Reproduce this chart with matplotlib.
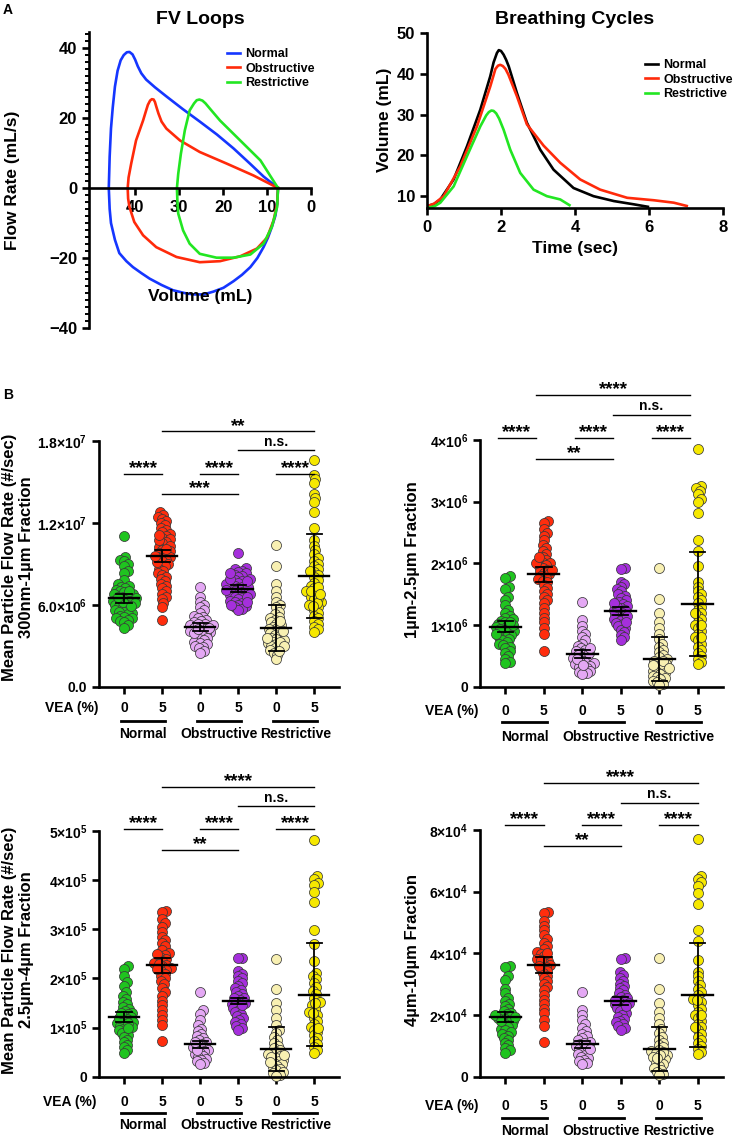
"""
Lung model figure: FV loops, breathing cycles and particle flow rates
by VEA concentration for the three lung conditions.
"""

import numpy as np
import matplotlib
matplotlib.use("Agg")
import matplotlib.pyplot as plt

W, H = 736, 1138

plt.rcParams["font.family"] = ["Liberation Sans", "DejaVu Sans"]
plt.rcParams["font.weight"] = "bold"
plt.rcParams["axes.labelweight"] = "bold"
plt.rcParams["mathtext.fontset"] = "custom"
plt.rcParams["mathtext.rm"] = "Liberation Sans:bold"
plt.rcParams["mathtext.bf"] = "Liberation Sans:bold"

# ---- Panel A: flow-volume loops (volume mL, flow mL/s) ----
fv_normal_vol = [7.5, 10.8, 13.9, 17.6, 21.4, 25.3, 29.2, 32.9, 35.5, 37.5,
                 38.6, 39.4, 40.0, 40.6, 41.3, 41.9, 42.6, 43.3, 44.0, 44.6,
                 45.1, 45.5, 45.8, 46.0, 45.8, 45.5, 44.6, 43.6, 42.0, 40.5,
                 38.6, 36.7, 34.0, 31.4, 28.8, 26.8, 24.4, 22.2, 19.9, 17.6,
                 15.7, 13.8, 12.2, 10.8, 9.8, 8.9, 8.1, 7.7, 7.5]
fv_normal_flow = [0.0, 3.3, 7.0, 11.3, 15.3, 19.0, 22.6, 26.2, 28.8, 31.0,
                  32.8, 34.8, 36.7, 38.2, 38.9, 38.8, 38.0, 36.5, 33.5, 29.0,
                  23.0, 17.0, 9.0, 0.0, -6.0, -10.0, -14.8, -18.6, -20.9, -22.6,
                  -24.3, -25.9, -27.7, -29.2, -30.0, -30.4, -30.4, -29.6, -28.5,
                  -26.6, -24.8, -22.6, -20.0, -16.9, -14.2, -11.1, -7.9, -4.5,
                  0.0]
fv_obstr_vol = [7.5, 13.1, 19.2, 25.3, 29.8, 32.9, 34.0, 34.7, 35.2, 35.5,
                35.8, 36.2, 36.6, 37.1, 37.5, 38.2, 39.8, 40.9, 41.5, 41.7,
                41.6, 41.3, 40.2, 38.2, 35.2, 30.6, 25.3, 20.7, 16.1, 12.3,
                10.0, 8.5, 7.7, 7.5]
fv_obstr_flow = [0.0, 3.6, 7.0, 10.3, 13.6, 17.0, 19.0, 21.3, 23.3, 24.6,
                 25.3, 25.4, 25.0, 23.8, 22.2, 19.3, 13.6, 7.0, 3.0, 0.0,
                 -3.0, -5.4, -9.7, -13.5, -16.9, -19.7, -21.2, -20.9, -19.5,
                 -17.3, -14.2, -9.2, -4.5, 0.0]
fv_restr_vol = [7.5, 11.5, 16.1, 20.7, 23.0, 24.0, 24.7, 25.4, 26.0, 26.6,
                27.6, 28.7, 29.6, 30.2, 30.5, 30.4, 30.2, 29.1, 27.6, 25.3,
                21.5, 17.6, 13.8, 10.8, 8.9, 7.7, 7.5]
fv_restr_flow = [0.0, 7.9, 13.6, 19.3, 22.7, 24.2, 25.0, 25.3, 25.1, 24.2,
                 22.2, 16.5, 9.8, 4.1, 0.0, -3.5, -7.3, -12.1, -15.9, -18.8,
                 -19.9, -19.9, -19.0, -15.9, -11.1, -5.4, 0.0]

# ---- Panel A: breathing cycles (time s, volume mL) ----
bc_normal_t = [0.0, 0.18, 0.36, 0.72, 1.08, 1.44, 1.71, 1.80, 1.89, 1.94,
               2.00, 2.07, 2.14, 2.21, 2.43, 2.70, 3.06, 3.42, 3.96, 4.50,
               5.05, 5.59, 5.97]
bc_normal_v = [7.6, 8.0, 9.2, 14.1, 22.2, 31.2, 39.4, 42.8, 45.1, 45.8,
               45.6, 44.7, 43.4, 41.8, 35.3, 28.0, 21.4, 16.5, 12.0, 10.0,
               8.8, 8.0, 7.4]
bc_obstr_t = [0.0, 0.20, 0.45, 0.90, 1.35, 1.71, 1.85, 1.92, 1.98, 2.05,
              2.12, 2.20, 2.43, 2.70, 3.15, 3.60, 4.14, 4.68, 5.41, 6.13,
              6.67, 7.02]
bc_obstr_v = [7.5, 8.2, 10.0, 17.3, 27.1, 36.9, 41.2, 42.0, 42.2, 41.9,
              41.2, 39.8, 34.5, 27.6, 22.4, 18.2, 14.1, 11.6, 9.6, 9.0,
              8.4, 7.6]
bc_restr_t = [0.0, 0.20, 0.36, 0.72, 1.08, 1.44, 1.60, 1.67, 1.74, 1.80,
              1.87, 1.95, 2.07, 2.25, 2.52, 2.88, 3.24, 3.60, 3.85]
bc_restr_v = [7.1, 7.5, 8.4, 12.4, 19.8, 27.1, 29.8, 30.6, 31.0, 30.9,
              30.3, 29.0, 26.3, 21.4, 15.7, 11.6, 10.0, 9.2, 7.8]

CONDITIONS = ["Normal", "Obstructive", "Restrictive"]
VEA_LEVELS = ["0", "5"]

# ---- Panel B: per-animal mean particle flow rates ----
# 300nm-1um, in units of 1e6 #/sec
fine_values = [
    [11.0, 9.5, 9.3, 9.2, 9.0, 8.8, 8.5, 8.3, 7.8, 7.5, 7.4, 7.3, 7.2, 7.1, 7.0,
     6.9, 6.8, 6.8, 6.7, 6.6, 6.5, 6.5, 6.4, 6.3, 6.3, 6.2, 6.1, 6.0, 6.0, 5.9,
     5.8, 5.7, 5.6, 5.5, 5.5, 5.4, 5.3, 5.2, 5.1, 5.0, 5.0, 4.9, 4.8, 4.7, 4.5,
     4.3, 6.2, 6.6, 5.9, 7.0],
    [12.8, 12.6, 12.4, 12.3, 12.1, 12.0, 11.8, 11.6, 11.5, 11.3, 11.2, 11.0,
     10.9, 10.8, 10.6, 10.5, 10.3, 10.2, 10.0, 9.9, 9.8, 9.7, 9.6, 9.5, 9.4,
     9.3, 9.2, 9.0, 8.9, 8.8, 8.6, 8.5, 8.3, 8.2, 8.0, 7.9, 7.7, 7.5, 7.4, 7.2,
     7.0, 6.8, 6.6, 6.4, 6.1, 5.8, 4.9, 10.1, 10.7, 11.1, 9.1, 9.6],
    [7.3, 6.6, 6.2, 6.0, 5.8, 5.6, 5.4, 5.2, 5.1, 5.0, 4.9, 4.8, 4.7, 4.6, 4.5,
     4.5, 4.4, 4.3, 4.2, 4.1, 4.0, 4.0, 3.9, 3.8, 3.7, 3.6, 3.5, 3.4, 3.3, 3.2,
     3.1, 3.0, 2.9, 2.8, 2.6, 2.5, 4.3, 4.6, 3.9, 4.2],
    [9.8, 8.7, 8.6, 8.5, 8.4, 8.3, 8.2, 8.1, 8.0, 7.9, 7.8, 7.7, 7.6, 7.5, 7.4,
     7.3, 7.2, 7.1, 7.0, 7.0, 6.9, 6.8, 6.7, 6.6, 6.5, 6.4, 6.3, 6.2, 6.1, 6.0,
     5.9, 5.8, 5.7, 5.6, 7.3, 7.5, 6.8, 7.1, 6.6, 7.9, 8.3, 6.2, 6.0, 7.7],
    [10.4, 8.8, 7.5, 7.0, 6.6, 6.2, 6.0, 5.8, 5.5, 5.3, 5.1, 5.0, 4.9, 4.7, 4.6,
     4.5, 4.4, 4.3, 4.2, 4.1, 4.0, 3.9, 3.8, 3.7, 3.6, 3.5, 3.4, 3.3, 3.2, 3.1,
     3.0, 2.9, 2.8, 2.7, 2.5, 2.3, 2.0, 3.6, 4.1, 3.3, 4.8, 3.0, 2.6],
    [16.6, 15.5, 15.2, 14.9, 14.1, 13.8, 13.5, 12.8, 11.6, 10.7, 10.3, 10.0,
     9.7, 9.4, 9.2, 9.0, 8.8, 8.6, 8.4, 8.2, 8.0, 7.8, 7.6, 7.4, 7.2, 7.0, 6.8,
     6.6, 6.4, 6.2, 6.0, 5.8, 5.6, 5.4, 5.2, 5.0, 4.8, 4.6, 4.4, 4.2, 4.0, 6.5,
     7.0, 6.1, 5.9, 8.5, 7.3, 6.8],
]
fine_means = [6.46, 9.56, 4.39, 7.17, 4.32, 8.10]
fine_errors = [0.35, 0.45, 0.30, 0.25, 1.68, 3.10]

# 1um-2.5um, in units of 1e6 #/sec
mid_values = [
    [1.80, 1.77, 1.62, 1.58, 1.45, 1.40, 1.32, 1.25, 1.20, 1.15, 1.12, 1.10,
     1.07, 1.05, 1.02, 1.00, 0.98, 0.96, 0.94, 0.92, 0.90, 0.88, 0.86, 0.84,
     0.82, 0.80, 0.78, 0.75, 0.72, 0.70, 0.68, 0.65, 0.62, 0.58, 0.55, 0.50,
     0.45, 0.40, 0.38, 1.00, 0.93, 1.05, 0.85],
    [2.68, 2.65, 2.55, 2.50, 2.45, 2.38, 2.30, 2.25, 2.20, 2.15, 2.10, 2.05,
     2.02, 2.00, 1.98, 1.95, 1.92, 1.90, 1.87, 1.85, 1.82, 1.80, 1.77, 1.75,
     1.72, 1.70, 1.65, 1.60, 1.55, 1.50, 1.45, 1.40, 1.35, 1.28, 1.20, 1.12,
     1.05, 0.95, 0.85, 0.58, 2.00, 1.90, 2.10],
    [1.38, 1.08, 0.98, 0.90, 0.85, 0.80, 0.75, 0.70, 0.66, 0.62, 0.60, 0.58,
     0.55, 0.52, 0.50, 0.48, 0.46, 0.44, 0.42, 0.40, 0.38, 0.36, 0.34, 0.32,
     0.30, 0.28, 0.26, 0.24, 0.22, 0.20, 0.55, 0.45, 0.35, 0.62],
    [1.92, 1.91, 1.70, 1.66, 1.62, 1.58, 1.55, 1.50, 1.47, 1.44, 1.40, 1.37,
     1.34, 1.31, 1.28, 1.25, 1.23, 1.20, 1.18, 1.15, 1.12, 1.10, 1.07, 1.04,
     1.01, 0.98, 0.95, 0.92, 0.88, 0.84, 0.80, 0.76, 1.25, 1.30, 1.15, 1.35,
     1.05],
    [1.92, 1.43, 1.20, 1.05, 0.95, 0.85, 0.78, 0.70, 0.65, 0.60, 0.56, 0.52,
     0.48, 0.45, 0.42, 0.40, 0.37, 0.35, 0.33, 0.30, 0.28, 0.26, 0.24, 0.22,
     0.20, 0.18, 0.16, 0.14, 0.12, 0.10, 0.08, 0.05, 0.02, 0.35, 0.42, 0.30],
    [3.85, 3.25, 3.22, 3.18, 3.12, 3.05, 3.00, 2.82, 2.38, 2.20, 1.95, 1.70,
     1.62, 1.55, 1.50, 1.45, 1.40, 1.35, 1.30, 1.25, 1.20, 1.15, 1.10, 1.05,
     1.00, 0.95, 0.90, 0.85, 0.80, 0.75, 0.70, 0.65, 0.60, 0.55, 0.50, 0.45,
     0.40, 0.36, 1.20, 1.00, 0.80],
]
mid_means = [0.97, 1.82, 0.53, 1.23, 0.45, 1.34]
mid_errors = [0.09, 0.12, 0.06, 0.06, 0.36, 0.85]

# 2.5um-4um, in units of 1e5 #/sec
coarse_values = [
    [2.25, 2.20, 2.05, 1.92, 1.85, 1.72, 1.65, 1.58, 1.52, 1.47, 1.42, 1.38,
     1.34, 1.30, 1.27, 1.24, 1.21, 1.18, 1.15, 1.12, 1.10, 1.07, 1.04, 1.01,
     0.98, 0.95, 0.92, 0.88, 0.84, 0.80, 0.75, 0.70, 0.65, 0.60, 0.55, 0.48,
     1.20, 1.30, 1.10, 1.00],
    [3.38, 3.35, 3.20, 3.12, 3.05, 2.95, 2.85, 2.78, 2.72, 2.65, 2.58, 2.52,
     2.48, 2.44, 2.40, 2.36, 2.32, 2.28, 2.25, 2.22, 2.18, 2.15, 2.10, 2.05,
     2.00, 1.95, 1.88, 1.80, 1.72, 1.65, 1.55, 1.45, 1.35, 1.25, 1.15, 1.05,
     0.72, 2.50, 2.30, 2.20],
    [1.72, 1.35, 1.28, 1.15, 1.05, 0.98, 0.92, 0.86, 0.82, 0.78, 0.74, 0.70,
     0.67, 0.64, 0.61, 0.58, 0.55, 0.52, 0.49, 0.46, 0.43, 0.40, 0.37, 0.34,
     0.31, 0.28, 0.25, 0.60, 0.55, 0.70],
    [2.42, 2.41, 2.15, 2.10, 2.05, 2.00, 1.95, 1.90, 1.85, 1.80, 1.76, 1.72,
     1.68, 1.64, 1.60, 1.56, 1.52, 1.48, 1.44, 1.40, 1.36, 1.32, 1.28, 1.24,
     1.20, 1.16, 1.12, 1.08, 1.04, 1.00, 0.96, 1.50, 1.60, 1.45],
    [2.40, 1.78, 1.50, 1.35, 1.20, 1.05, 0.95, 0.88, 0.80, 0.74, 0.68, 0.63,
     0.58, 0.54, 0.50, 0.46, 0.42, 0.38, 0.35, 0.32, 0.28, 0.25, 0.22, 0.19,
     0.16, 0.13, 0.10, 0.07, 0.04, 0.02, 0.45, 0.40, 0.30],
    [4.82, 4.08, 4.02, 3.95, 3.90, 3.75, 3.55, 2.98, 2.70, 2.35, 2.12, 2.05,
     1.98, 1.90, 1.82, 1.75, 1.68, 1.60, 1.52, 1.45, 1.38, 1.32, 1.26, 1.20,
     1.14, 1.08, 1.02, 0.96, 0.90, 0.84, 0.78, 0.72, 0.66, 0.60, 0.54, 0.48,
     1.30, 1.00, 1.50],
]
coarse_means = [1.21, 2.27, 0.66, 1.54, 0.56, 1.67]
coarse_errors = [0.10, 0.15, 0.07, 0.07, 0.45, 1.05]

# 4um-10um, in units of 1e4 #/sec
large_values = [
    [3.60, 3.55, 3.25, 3.15, 2.85, 2.70, 2.55, 2.45, 2.35, 2.28, 2.20, 2.14,
     2.08, 2.02, 1.97, 1.92, 1.87, 1.82, 1.77, 1.72, 1.67, 1.62, 1.56, 1.50,
     1.44, 1.38, 1.32, 1.25, 1.18, 1.10, 1.02, 0.92, 0.85, 0.78, 1.90, 2.00,
     1.80, 1.95],
    [5.35, 5.30, 5.05, 4.90, 4.75, 4.60, 4.45, 4.35, 4.25, 4.15, 4.05, 3.98,
     3.90, 3.82, 3.75, 3.68, 3.62, 3.55, 3.48, 3.42, 3.35, 3.28, 3.20, 3.10,
     3.00, 2.90, 2.80, 2.65, 2.50, 2.35, 2.20, 2.05, 1.85, 1.65, 1.12, 3.80,
     3.60, 4.00],
    [2.75, 2.15, 2.00, 1.85, 1.70, 1.58, 1.48, 1.40, 1.32, 1.25, 1.18, 1.12,
     1.06, 1.00, 0.95, 0.90, 0.85, 0.80, 0.75, 0.70, 0.65, 0.60, 0.55, 0.50,
     0.45, 0.40, 1.00, 1.10, 0.90],
    [3.85, 3.82, 3.40, 3.30, 3.20, 3.10, 3.02, 2.95, 2.88, 2.80, 2.73, 2.66,
     2.60, 2.54, 2.48, 2.42, 2.36, 2.30, 2.24, 2.18, 2.12, 2.06, 2.00, 1.94,
     1.88, 1.82, 1.76, 1.70, 1.64, 1.58, 1.52, 2.40, 2.50, 2.30],
    [3.85, 2.85, 2.40, 2.10, 1.90, 1.70, 1.55, 1.42, 1.30, 1.20, 1.10, 1.02,
     0.95, 0.88, 0.82, 0.76, 0.70, 0.64, 0.58, 0.52, 0.46, 0.40, 0.34, 0.28,
     0.22, 0.16, 0.10, 0.04, 0.80, 0.70, 0.60],
    [7.70, 6.50, 6.40, 6.30, 6.20, 5.95, 5.60, 4.75, 4.40, 3.80, 3.40, 3.25,
     3.10, 2.98, 2.86, 2.75, 2.64, 2.53, 2.42, 2.31, 2.20, 2.10, 2.00, 1.90,
     1.80, 1.70, 1.60, 1.50, 1.40, 1.30, 1.20, 1.10, 1.00, 0.90, 0.80, 0.72,
     2.50, 2.00, 1.60],
]
large_means = [1.93, 3.62, 1.05, 2.46, 0.90, 2.66]
large_errors = [0.16, 0.25, 0.12, 0.12, 0.71, 1.69]

# significance brackets: (from group, to group, height in panel units, text)
fine_sig = [(0, 1, 15.6, "****"), (2, 3, 15.6, "****"), (4, 5, 15.6, "****"),
            (1, 3, 14.1, "***"), (3, 5, 17.3, "n.s."), (1, 5, 18.7, "**")]
mid_sig = [(0, 1, 4.04, "****"), (2, 3, 4.04, "****"), (4, 5, 4.04, "****"),
           (1, 3, 3.70, "**"), (3, 5, 4.41, "n.s."), (1, 5, 4.73, "****")]
coarse_sig = [(0, 1, 5.04, "****"), (2, 3, 5.04, "****"), (4, 5, 5.04, "****"),
              (1, 3, 4.62, "**"), (3, 5, 5.50, "n.s."), (1, 5, 5.90, "****")]
large_sig = [(0, 1, 8.16, "****"), (2, 3, 8.16, "****"), (4, 5, 8.16, "****"),
             (1, 3, 7.48, "**"), (3, 5, 8.89, "n.s."), (1, 5, 9.54, "****")]

GROUP_COLORS = ["#1fc41f", "#ff2d0d", "#e4a8f4", "#a52fdc", "#f8f0b2", "#f6e800"]
LINE_COLORS = {"blue": "#1536ff", "red": "#ff2a0a", "green": "#22e622"}


def add_axes_px(fig, left, top, right, bottom):
    """Add an axes using pixel edges measured from the top-left corner."""
    return fig.add_axes([left / W, 1 - bottom / H, (right - left) / W,
                         (bottom - top) / H])


def fig_text(fig, x, y, s, **kw):
    fig.text(x / W, 1 - y / H, s, **kw)


def style_spines(ax, labelsize=12):
    for side in ("top", "right"):
        ax.spines[side].set_visible(False)
    for side in ("left", "bottom"):
        ax.spines[side].set_linewidth(1.9)
    ax.tick_params(which="major", length=5, width=1.9, labelsize=labelsize)
    ax.tick_params(which="minor", length=3, width=1.4)


def plot_fv_loops(fig):
    ax = add_axes_px(fig, 89, 32, 311, 328)
    ax.plot(fv_normal_vol, fv_normal_flow, color=LINE_COLORS["blue"], lw=1.9,
            label="Normal", solid_joinstyle="round")
    ax.plot(fv_obstr_vol, fv_obstr_flow, color=LINE_COLORS["red"], lw=1.9,
            label="Obstructive", solid_joinstyle="round")
    ax.plot(fv_restr_vol, fv_restr_flow, color=LINE_COLORS["green"], lw=1.9,
            label="Restrictive", solid_joinstyle="round")
    ax.set_xlim(50.5, 0)
    ax.set_ylim(-40, 44.6)
    style_spines(ax)
    ax.spines["bottom"].set_position(("data", 0))
    ax.set_xticks([40, 30, 20, 10, 0])
    ax.set_yticks([-40, -20, 0, 20, 40])
    ax.set_yticks(np.arange(-40, 45, 2), minor=True)
    ax.text(0.5, 0.105, "Volume (mL)", transform=ax.transAxes, ha="center",
            va="center", fontsize=12.5, fontweight="bold")
    ax.legend(loc="upper left", bbox_to_anchor=(0.62, 0.945), frameon=False,
              handlelength=1.1, handletextpad=0.4, labelspacing=0.2,
              borderaxespad=0, borderpad=0, prop={"size": 9, "weight": "bold"})
    fig_text(fig, 200, 20, "FV Loops", ha="center", va="center", fontsize=14,
             fontweight="bold")
    fig_text(fig, 13, 180, "Flow Rate (mL/s)", ha="center", va="center",
             rotation=90, fontsize=12.5, fontweight="bold")


def plot_breathing(fig):
    ax = add_axes_px(fig, 427, 33, 723, 208)
    ax.plot(bc_normal_t, bc_normal_v, color="black", lw=1.9, label="Normal",
            solid_joinstyle="round")
    ax.plot(bc_obstr_t, bc_obstr_v, color=LINE_COLORS["red"], lw=1.9,
            label="Obstructive", solid_joinstyle="round")
    ax.plot(bc_restr_t, bc_restr_v, color=LINE_COLORS["green"], lw=1.9,
            label="Restrictive", solid_joinstyle="round")
    ax.set_xlim(0, 8)
    ax.set_ylim(7.1, 50)
    style_spines(ax)
    ax.set_xticks([0, 2, 4, 6, 8])
    ax.set_yticks([10, 20, 30, 40, 50])
    ax.legend(loc="upper left", bbox_to_anchor=(0.735, 0.85), frameon=False,
              handlelength=1.1, handletextpad=0.4, labelspacing=0.2,
              borderaxespad=0, borderpad=0, prop={"size": 9, "weight": "bold"})
    fig_text(fig, 575, 20, "Breathing Cycles", ha="center", va="center",
             fontsize=14, fontweight="bold")
    fig_text(fig, 575, 248, "Time (sec)", ha="center", va="center",
             fontsize=12.5, fontweight="bold")
    fig_text(fig, 385, 120, "Volume (mL)", ha="center", va="center",
             rotation=90, fontsize=12.5, fontweight="bold")


def swarm_offsets(ax, xc, vals, diam_px, spacing=0.42, step=0.6):
    """Beeswarm layout: horizontal offsets (data units) so dots overlap only
    partly, as GraphPad does."""
    pts = ax.transData.transform(np.column_stack([np.full(len(vals), xc), vals]))
    ypx = pts[:, 1]
    x0 = pts[0, 0]
    x1 = ax.transData.transform([[xc + 1, vals[0]]])[0, 0]
    px_per_unit = x1 - x0
    dmin = diam_px * spacing
    cands = [0.0]
    for k in range(1, 300):
        cands += [k * step, -k * step]
    placed = []
    offs = np.zeros(len(vals))
    for i in np.argsort(ypx):
        y = ypx[i]
        near = [(px, py) for px, py in placed if abs(py - y) < dmin]
        for c in cands:
            if all((c - px) ** 2 + (y - py) ** 2 >= dmin ** 2 for px, py in near):
                break
        placed.append((c, y))
        offs[i] = c / px_per_unit
    return offs


def plot_particle_panel(fig, rect, values, means, errors, scale, ymax, yticks,
                        yticklabels, ylabel, ylabel_xy, sig, sig_shift,
                        label_rows, vea_x):
    ax = add_axes_px(fig, *rect)
    ax.set_xlim(-0.66, 5.65)
    ax.set_ylim(0, ymax * scale)
    style_spines(ax, labelsize=10)
    diam = 10.0
    for i, vals in enumerate(values):
        vals = np.asarray(vals) * scale
        offs = swarm_offsets(ax, i, vals, diam)
        ax.scatter(i + offs, vals, s=(diam / 1.389) ** 2, color=GROUP_COLORS[i],
                   edgecolor="#3a3a3a", linewidth=0.55, zorder=2, clip_on=False)
    for i, (m, e) in enumerate(zip(means, errors)):
        m, e = m * scale, e * scale
        ax.plot([i - 0.4, i + 0.4], [m, m], color="black", lw=1.7, zorder=4)
        ax.plot([i, i], [m - e, m + e], color="black", lw=1.3, zorder=4)
        for yy in (m - e, m + e):
            ax.plot([i - 0.2, i + 0.2], [yy, yy], color="black", lw=1.3,
                    zorder=4)
    for a, b, h, txt in sig:
        h = h * scale
        ax.plot([a + sig_shift, b + sig_shift], [h, h], color="black", lw=1.0,
                clip_on=False)
        stars = "*" in txt
        ax.annotate(txt, ((a + b) / 2 + sig_shift, h),
                    xytext=(0, -2.5 if stars else 1), textcoords="offset points",
                    ha="center", va="bottom", fontsize=13.5 if stars else 10,
                    fontweight="bold", annotation_clip=False)
    ax.set_xticks(range(6))
    ax.tick_params(axis="x", labelbottom=False)
    ax.set_yticks(np.asarray(yticks) * scale)
    ax.set_yticklabels(yticklabels)
    trans = ax.get_xaxis_transform()
    y_lab, y_line, y_name = label_rows
    for i in range(6):
        ax.text(i, y_lab, VEA_LEVELS[i % 2], transform=trans, ha="center",
                va="center", fontsize=10, fontweight="bold")
    for k, name in enumerate(CONDITIONS):
        ax.plot([2 * k - 0.08, 2 * k + 1.08], [y_line, y_line], color="black",
                lw=2.0, transform=trans, clip_on=False)
        ax.text(2 * k + 0.5, y_name, name, transform=trans, ha="center",
                va="center", fontsize=10, fontweight="bold")
    fig_text(fig, vea_x, rect[3] - y_lab * (rect[3] - rect[1]), "VEA (%)",
             ha="center", va="center", fontsize=10, fontweight="bold")
    fig_text(fig, ylabel_xy[0], ylabel_xy[1], ylabel, ha="center", va="center",
             rotation=90, fontsize=12, fontweight="bold", linespacing=1.1)


def main():
    fig = plt.figure(figsize=(W / 100, H / 100), dpi=100)

    plot_fv_loops(fig)
    plot_breathing(fig)
    fig_text(fig, 8, 10, "A", ha="center", va="center", fontsize=10,
             fontweight="bold")
    fig_text(fig, 8, 395, "B", ha="center", va="center", fontsize=10,
             fontweight="bold")

    plot_particle_panel(
        fig, (99, 440.7, 339, 686.7), fine_values, fine_means, fine_errors,
        1e6, 18, [0, 6, 12, 18],
        ["0.0", r"$6.0{\times}10^{6}$", r"$1.2{\times}10^{7}$",
         r"$1.8{\times}10^{7}$"],
        "Mean Particle Flow Rate (#/sec)\n300nm-1µm Fraction", (18, 557),
        fine_sig, 0.0, (-0.087, -0.14, -0.193), 72)
    plot_particle_panel(
        fig, (480, 440, 722.7, 686.7), mid_values, mid_means, mid_errors,
        1e6, 4, [0, 1, 2, 3, 4],
        ["0"] + [r"$%d{\times}10^{6}$" % k for k in range(1, 5)],
        "1µm-2.5µm Fraction", (412, 560),
        mid_sig, -0.2, (-0.097, -0.142, -0.203), 452)
    plot_particle_panel(
        fig, (99, 831, 339, 1076.7), coarse_values, coarse_means,
        coarse_errors, 1e5, 5, [0, 1, 2, 3, 4, 5],
        ["0"] + [r"$%d{\times}10^{5}$" % k for k in range(1, 6)],
        "Mean Particle Flow Rate (#/sec)\n2.5µm-4µm Fraction", (18, 950),
        coarse_sig, 0.0, (-0.102, -0.148, -0.197), 70)
    plot_particle_panel(
        fig, (480, 830, 722.7, 1076.7), large_values, large_means,
        large_errors, 1e4, 8, [0, 2, 4, 6, 8],
        ["0"] + [r"$%d{\times}10^{4}$" % k for k in (2, 4, 6, 8)],
        "4µm-10µm Fraction", (412, 950),
        large_sig, 0.0, (-0.119, -0.168, -0.219), 452)

    fig.savefig("out.png", dpi=100)


if __name__ == "__main__":
    main()
